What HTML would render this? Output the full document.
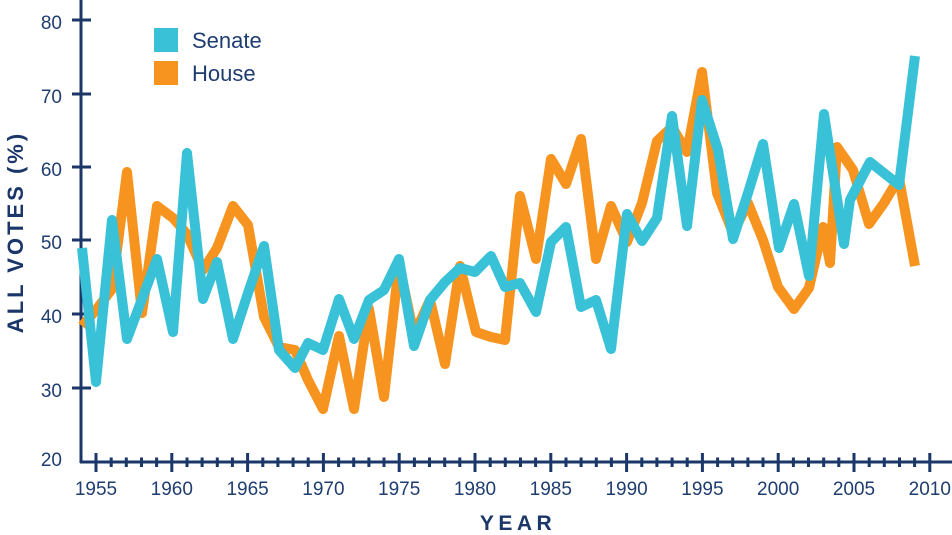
<!DOCTYPE html>
<html>
<head>
<meta charset="utf-8">
<style>
html,body{margin:0;padding:0;background:#fff;}
svg{display:block;}
text{font-family:"Liberation Sans",Arial,sans-serif;}
</style>
</head>
<body>
<svg width="952" height="535" viewBox="0 0 952 535" xmlns="http://www.w3.org/2000/svg">
  <!-- axes -->
  <g stroke="#1b3668" stroke-width="3" fill="none">
    <line x1="81" y1="0" x2="81" y2="463"/>
    <line x1="80" y1="462" x2="952" y2="462"/>
    <!-- y ticks -->
    <line x1="72" y1="20" x2="91" y2="20"/>
    <line x1="72" y1="94" x2="91" y2="94"/>
    <line x1="72" y1="167" x2="91" y2="167"/>
    <line x1="72" y1="240" x2="91" y2="240"/>
    <line x1="72" y1="314" x2="91" y2="314"/>
    <line x1="72" y1="388" x2="91" y2="388"/>
  </g>
  <g stroke="#1b3668" stroke-width="3">
    <!-- major ticks -->
    <line x1="96" y1="453" x2="96" y2="472"/>
    <line x1="171.8" y1="453" x2="171.8" y2="472"/>
    <line x1="247.6" y1="453" x2="247.6" y2="472"/>
    <line x1="323.4" y1="453" x2="323.4" y2="472"/>
    <line x1="399.2" y1="453" x2="399.2" y2="472"/>
    <line x1="475" y1="453" x2="475" y2="472"/>
    <line x1="550.8" y1="453" x2="550.8" y2="472"/>
    <line x1="626.6" y1="453" x2="626.6" y2="472"/>
    <line x1="702.4" y1="453" x2="702.4" y2="472"/>
    <line x1="778.2" y1="453" x2="778.2" y2="472"/>
    <line x1="854" y1="453" x2="854" y2="472"/>
    <line x1="929.8" y1="453" x2="929.8" y2="472"/>
    <!-- minor ticks -->
    <path d="M111.2 457.5V467 M126.3 457.5V467 M141.5 457.5V467 M156.6 457.5V467
             M187 457.5V467 M202.1 457.5V467 M217.3 457.5V467 M232.4 457.5V467
             M262.8 457.5V467 M277.9 457.5V467 M293.1 457.5V467 M308.2 457.5V467
             M338.6 457.5V467 M353.7 457.5V467 M368.9 457.5V467 M384 457.5V467
             M414.4 457.5V467 M429.5 457.5V467 M444.7 457.5V467 M459.8 457.5V467
             M490.2 457.5V467 M505.3 457.5V467 M520.5 457.5V467 M535.6 457.5V467
             M566 457.5V467 M581.1 457.5V467 M596.3 457.5V467 M611.4 457.5V467
             M641.8 457.5V467 M656.9 457.5V467 M672.1 457.5V467 M687.2 457.5V467
             M717.6 457.5V467 M732.7 457.5V467 M747.9 457.5V467 M763 457.5V467
             M793.4 457.5V467 M808.5 457.5V467 M823.7 457.5V467 M838.8 457.5V467
             M869.2 457.5V467 M884.3 457.5V467 M899.5 457.5V467 M914.6 457.5V467" fill="none"/>
  </g>

  <!-- y tick labels -->
  <g fill="#1f3d70" font-size="19" text-anchor="end">
    <text x="62" y="29">80</text>
    <text x="62" y="103">70</text>
    <text x="62" y="176">60</text>
    <text x="62" y="249">50</text>
    <text x="62" y="323">40</text>
    <text x="62" y="397">30</text>
    <text x="62" y="466">20</text>
  </g>
  <!-- x tick labels -->
  <g fill="#1f3d70" font-size="19" text-anchor="middle">
    <text x="96" y="495">1955</text>
    <text x="171.8" y="495">1960</text>
    <text x="247.6" y="495">1965</text>
    <text x="323.4" y="495">1970</text>
    <text x="399.2" y="495">1975</text>
    <text x="475" y="495">1980</text>
    <text x="550.8" y="495">1985</text>
    <text x="626.6" y="495">1990</text>
    <text x="702.4" y="495">1995</text>
    <text x="778.2" y="495">2000</text>
    <text x="854" y="495">2005</text>
    <text x="929.8" y="495">2010</text>
  </g>

  <!-- axis titles -->
  <text x="518" y="530" font-size="21" font-weight="bold" fill="#1b3668" text-anchor="middle" letter-spacing="4.5">YEAR</text>
  <text transform="translate(23,232) rotate(-90)" x="0" y="0" font-size="22" font-weight="bold" fill="#1b3668" text-anchor="middle" letter-spacing="3">ALL VOTES (%)</text>

  <!-- legend -->
  <rect x="154" y="28" width="24" height="24" fill="#38c1d7"/>
  <rect x="154" y="61" width="24" height="24" fill="#f7941f"/>
  <text x="192" y="48" font-size="22" fill="#1f3d70">Senate</text>
  <text x="192" y="81" font-size="22" fill="#1f3d70">House</text>

  <!-- House (orange) -->
  <polyline fill="none" stroke="#f7941f" stroke-width="10" stroke-linejoin="round" stroke-linecap="butt"
    points="82,326 96,310 112,289 127,172 142,313 157,206 173,218 187,234 203,270 217,248 233,206 248,225 264,317 279,347 295,350 308,380 323,409 339,336 354,409 369,309 384,397 399,264 414,335 430,300 445,364 460,266 476,332 491,337 505,340 520,196 536,259 551,159 566,184 581,139 596,259 611,206 627,242 642,203 657,141 672,127 687,152 702,72 717,193 733,233 748,203 763,240 778,287 794,309 809,288 823,227 830,263 837,147 853,170 869,224 884,203 899,178 915,266"/>

  <!-- Senate (blue) -->
  <polyline fill="none" stroke="#38c1d7" stroke-width="10" stroke-linejoin="round" stroke-linecap="butt"
    points="82,248 96,382 112,220 127,339 142,299 157,259 173,332 187,153 203,299 217,262 233,339 248,293 264,246 279,350 295,368 308,343 323,350 339,299 354,339 369,300 384,290 399,259 414,346 430,300 445,282 460,268 475,272 491,256 505,287 520,283 536,312 551,242 566,227 581,307 596,300 611,349 627,214 642,241 657,218 672,116 687,226 702,100 718,150 733,239 748,193 763,144 779,248 794,204 809,276 824,114 844,244 850,200 870,162 899,185 915,56"/>
</svg>
</body>
</html>
